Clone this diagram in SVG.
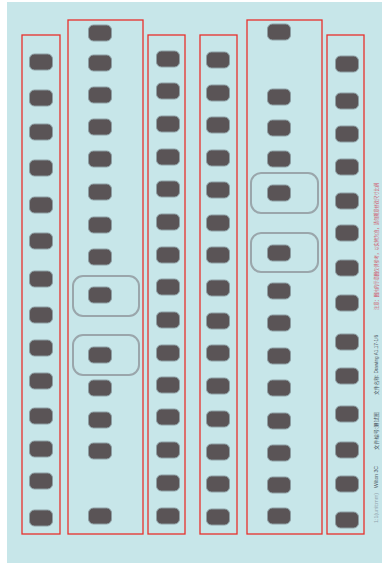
<svg xmlns="http://www.w3.org/2000/svg" width="382" height="563" viewBox="0 0 382 563">
<style>
.bg{fill:#c7e6e9}
.col{fill:none;stroke:#e8302c;stroke-width:1.3}
.p{fill:#5a5456;stroke:#8d9ea3;stroke-width:1}
.box{fill:none;stroke:#9aa6ab;stroke-width:2}
.pink{font-family:"Liberation Sans","Noto Sans CJK SC",sans-serif;font-size:5px;fill:#d0586e}
.dark{font-family:"Liberation Sans","Noto Sans CJK SC",sans-serif;font-size:5px;fill:#4d5a66}
.light{font-family:"Liberation Sans","Noto Sans CJK SC",sans-serif;font-size:5px;fill:#8fa3ad}
</style>
<rect x="0" y="0" width="382" height="563" fill="#ffffff"/>
<rect class="bg" x="7" y="2" width="375" height="561"/>

<g id="column1">
<rect class="col" x="22" y="35" width="38" height="499"/>
<g transform="translate(29.5,0)">
<rect class="p" x="0" y="54" width="23" height="16" rx="5"/>
<rect class="p" x="0" y="90" width="23" height="16" rx="5"/>
<rect class="p" x="0" y="124" width="23" height="16" rx="5"/>
<rect class="p" x="0" y="160" width="23" height="16" rx="5"/>
<rect class="p" x="0" y="197" width="23" height="16" rx="5"/>
<rect class="p" x="0" y="233" width="23" height="16" rx="5"/>
<rect class="p" x="0" y="271" width="23" height="16" rx="5"/>
<rect class="p" x="0" y="307" width="23" height="16" rx="5"/>
<rect class="p" x="0" y="340" width="23" height="16" rx="5"/>
<rect class="p" x="0" y="373" width="23" height="16" rx="5"/>
<rect class="p" x="0" y="408" width="23" height="16" rx="5"/>
<rect class="p" x="0" y="441" width="23" height="16" rx="5"/>
<rect class="p" x="0" y="473" width="23" height="16" rx="5"/>
<rect class="p" x="0" y="510" width="23" height="16" rx="5"/>
</g>
</g>

<g id="column2">
<rect class="col" x="68" y="20" width="75" height="514"/>
<rect class="box" x="73" y="276" width="66" height="40" rx="10"/>
<rect class="box" x="73" y="335" width="66" height="40" rx="10"/>
<g transform="translate(88.5,0)">
<rect class="p" x="0" y="25" width="23" height="16" rx="5"/>
<rect class="p" x="0" y="55" width="23" height="16" rx="5"/>
<rect class="p" x="0" y="87" width="23" height="16" rx="5"/>
<rect class="p" x="0" y="119" width="23" height="16" rx="5"/>
<rect class="p" x="0" y="151" width="23" height="16" rx="5"/>
<rect class="p" x="0" y="184" width="23" height="16" rx="5"/>
<rect class="p" x="0" y="217" width="23" height="16" rx="5"/>
<rect class="p" x="0" y="249" width="23" height="16" rx="5"/>
<rect class="p" x="0" y="287" width="23" height="16" rx="5"/>
<rect class="p" x="0" y="347" width="23" height="16" rx="5"/>
<rect class="p" x="0" y="380" width="23" height="16" rx="5"/>
<rect class="p" x="0" y="412" width="23" height="16" rx="5"/>
<rect class="p" x="0" y="443" width="23" height="16" rx="5"/>
<rect class="p" x="0" y="508" width="23" height="16" rx="5"/>
</g>
</g>

<g id="column3">
<rect class="col" x="148" y="35" width="37" height="499"/>
<g transform="translate(156.5,0)">
<rect class="p" x="0" y="51" width="23" height="16" rx="5"/>
<rect class="p" x="0" y="83" width="23" height="16" rx="5"/>
<rect class="p" x="0" y="116" width="23" height="16" rx="5"/>
<rect class="p" x="0" y="149" width="23" height="16" rx="5"/>
<rect class="p" x="0" y="181" width="23" height="16" rx="5"/>
<rect class="p" x="0" y="214" width="23" height="16" rx="5"/>
<rect class="p" x="0" y="247" width="23" height="16" rx="5"/>
<rect class="p" x="0" y="279" width="23" height="16" rx="5"/>
<rect class="p" x="0" y="312" width="23" height="16" rx="5"/>
<rect class="p" x="0" y="345" width="23" height="16" rx="5"/>
<rect class="p" x="0" y="377" width="23" height="16" rx="5"/>
<rect class="p" x="0" y="409" width="23" height="16" rx="5"/>
<rect class="p" x="0" y="442" width="23" height="16" rx="5"/>
<rect class="p" x="0" y="475" width="23" height="16" rx="5"/>
<rect class="p" x="0" y="508" width="23" height="16" rx="5"/>
</g>
</g>

<g id="column4">
<rect class="col" x="200" y="35" width="37" height="499"/>
<g transform="translate(206.5,0)">
<rect class="p" x="0" y="52" width="23" height="16" rx="5"/>
<rect class="p" x="0" y="85" width="23" height="16" rx="5"/>
<rect class="p" x="0" y="117" width="23" height="16" rx="5"/>
<rect class="p" x="0" y="150" width="23" height="16" rx="5"/>
<rect class="p" x="0" y="182" width="23" height="16" rx="5"/>
<rect class="p" x="0" y="215" width="23" height="16" rx="5"/>
<rect class="p" x="0" y="247" width="23" height="16" rx="5"/>
<rect class="p" x="0" y="280" width="23" height="16" rx="5"/>
<rect class="p" x="0" y="313" width="23" height="16" rx="5"/>
<rect class="p" x="0" y="345" width="23" height="16" rx="5"/>
<rect class="p" x="0" y="378" width="23" height="16" rx="5"/>
<rect class="p" x="0" y="411" width="23" height="16" rx="5"/>
<rect class="p" x="0" y="444" width="23" height="16" rx="5"/>
<rect class="p" x="0" y="476" width="23" height="16" rx="5"/>
<rect class="p" x="0" y="509" width="23" height="16" rx="5"/>
</g>
</g>

<g id="column5">
<rect class="col" x="247" y="20" width="75" height="514"/>
<rect class="box" x="251" y="173" width="67" height="40" rx="10"/>
<rect class="box" x="251" y="233" width="67" height="39" rx="10"/>
<g transform="translate(267.5,0)">
<rect class="p" x="0" y="24" width="23" height="16" rx="5"/>
<rect class="p" x="0" y="89" width="23" height="16" rx="5"/>
<rect class="p" x="0" y="120" width="23" height="16" rx="5"/>
<rect class="p" x="0" y="151" width="23" height="16" rx="5"/>
<rect class="p" x="0" y="185" width="23" height="16" rx="5"/>
<rect class="p" x="0" y="245" width="23" height="16" rx="5"/>
<rect class="p" x="0" y="283" width="23" height="16" rx="5"/>
<rect class="p" x="0" y="315" width="23" height="16" rx="5"/>
<rect class="p" x="0" y="348" width="23" height="16" rx="5"/>
<rect class="p" x="0" y="380" width="23" height="16" rx="5"/>
<rect class="p" x="0" y="413" width="23" height="16" rx="5"/>
<rect class="p" x="0" y="445" width="23" height="16" rx="5"/>
<rect class="p" x="0" y="477" width="23" height="16" rx="5"/>
<rect class="p" x="0" y="508" width="23" height="16" rx="5"/>
</g>
</g>

<g id="column6">
<rect class="col" x="327" y="35" width="37" height="499"/>
<g transform="translate(335.5,0)">
<rect class="p" x="0" y="56" width="23" height="16" rx="5"/>
<rect class="p" x="0" y="93" width="23" height="16" rx="5"/>
<rect class="p" x="0" y="126" width="23" height="16" rx="5"/>
<rect class="p" x="0" y="159" width="23" height="16" rx="5"/>
<rect class="p" x="0" y="193" width="23" height="16" rx="5"/>
<rect class="p" x="0" y="225" width="23" height="16" rx="5"/>
<rect class="p" x="0" y="260" width="23" height="16" rx="5"/>
<rect class="p" x="0" y="295" width="23" height="16" rx="5"/>
<rect class="p" x="0" y="334" width="23" height="16" rx="5"/>
<rect class="p" x="0" y="368" width="23" height="16" rx="5"/>
<rect class="p" x="0" y="406" width="23" height="16" rx="5"/>
<rect class="p" x="0" y="442" width="23" height="16" rx="5"/>
<rect class="p" x="0" y="476" width="23" height="16" rx="5"/>
<rect class="p" x="0" y="512" width="23" height="16" rx="5"/>
</g>
</g>

<g id="notes">
<text class="pink" transform="translate(378,310) rotate(-90)" textLength="127" lengthAdjust="spacingAndGlyphs">注意：图片的示意图仅供参考，以实物为准，请勿随意修改尺寸比例</text>
<text class="dark" transform="translate(378,395) rotate(-90)" textLength="60" lengthAdjust="spacingAndGlyphs">文件名称: Drawing A1.17-1/6</text>
<text class="dark" transform="translate(378,450) rotate(-90)" textLength="38" lengthAdjust="spacingAndGlyphs">文件编号:测试图</text>
<text class="dark" transform="translate(378,488) rotate(-90)" textLength="22" lengthAdjust="spacingAndGlyphs">Wilton 3C</text>
<text class="light" transform="translate(378,523) rotate(-90)" textLength="30" lengthAdjust="spacingAndGlyphs">1:1(unit:mm)</text>
</g>
</svg>
